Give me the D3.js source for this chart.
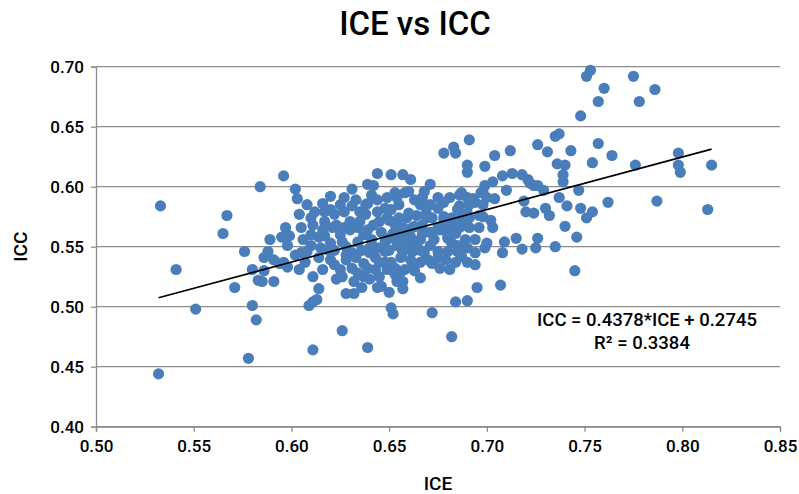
<!DOCTYPE html>
<html>
<head>
<meta charset="utf-8">
<script src="https://cdn.jsdelivr.net/npm/d3@7"></script>
<style>
  html, body { margin: 0; padding: 0; background: #fff; }
  svg { display: block; font-family: Roboto, "Noto Sans", sans-serif; }
</style>
</head>
<body>
<svg id="chart" width="799" height="494"></svg>
<script>
const titleText = "ICE vs ICC";
const xLabel = "ICE";
const yLabel = "ICC";
const xTicks = [0.50, 0.55, 0.60, 0.65, 0.70, 0.75, 0.80, 0.85];
const yTicks = [0.40, 0.45, 0.50, 0.55, 0.60, 0.65, 0.70];
const slope = 0.4378;
const intercept = 0.2745;
const rSquared = 0.3384;

const ice = [
0.533,0.541,0.551,0.532,0.567,0.565,0.571,0.576,0.578,0.580,0.582,0.584,0.580,0.586,0.583,0.585,0.591,0.586,0.588,0.591,
0.594,0.598,0.596,0.597,0.595,0.589,0.598,0.596,0.604,0.611,0.614,0.609,0.611,0.613,0.626,0.611,0.639,0.650,0.651,0.652,
0.657,0.657,0.663,0.672,0.682,0.684,0.690,0.695,0.707,0.694,0.745,
0.602,0.603,0.608,0.616,0.620,0.627,0.631,0.631,0.635,0.639,0.642,0.644,0.651,0.657,0.661,0.641,0.639,0.644,0.649,0.654,
0.660,0.668,0.667,0.671,0.675,0.678,0.686,0.690,0.694,0.685,0.675,0.669,0.678,0.610,0.617,0.630,0.649,0.659,0.664,0.605,
0.611,0.623,0.635,0.642,0.683,0.691,0.686,0.599,0.606,0.614,0.625,0.637,0.646,0.656,0.662,0.667,0.680,0.694,0.608,0.620,
0.628,0.640,0.650,0.662,0.675,0.685,
0.678,0.684,0.683,0.691,0.690,0.690,0.699,0.704,0.712,0.731,0.736,0.708,0.713,0.718,0.721,0.703,0.699,0.698,0.710,0.722,
0.724,0.726,0.729,0.653,0.658,0.687,0.693,0.697,0.700,0.704,0.720,0.724,0.730,0.732,0.737,0.650,0.655,0.660,0.669,0.686,
0.690,0.691,0.696,0.698,0.702,0.703,0.678,0.680,0.675,0.659,0.663,0.667,0.672,0.652,0.655,0.680,0.682,0.700,0.699,0.694,
0.709,0.715,0.726,0.708,0.718,0.725,0.735,0.687,0.676,0.681,0.672,0.656,0.661,0.653,0.662,0.666,0.671,0.661,
0.753,0.751,0.775,0.760,0.786,0.757,0.778,0.748,0.737,0.735,0.757,0.726,0.743,0.764,0.740,0.754,0.776,0.739,0.739,0.747,
0.719,0.762,0.787,0.741,0.748,0.754,0.751,0.740,0.746,
0.798,0.798,0.799,0.815,0.813,
0.605,0.620,0.628,0.637,0.645,0.657,0.640,0.631,0.616,0.623,0.632,0.628,0.632,0.636,0.644,0.640,0.645,0.649,0.656,0.668,
0.680,0.626,0.637,0.646,0.654,
0.604,0.612,0.620,0.627,0.622,0.638,0.644,0.651,0.645,0.653,0.616,0.630,0.619,0.626,0.634,0.641,0.648,0.654,0.614,0.622,
0.631,0.639,0.648,0.653,0.607,0.602,0.610,0.617,0.633,0.643,0.666,0.673,0.684,0.689,0.670,0.679,0.685,0.690,0.658,0.663,
0.651,0.658,0.666,0.648,
0.621,0.627,0.634,0.639,0.650,0.657,0.661,0.671,0.676,0.682,0.687,0.672,0.666,0.671,0.681,0.663,0.655,0.648,0.638,0.633,
0.625,0.617,0.610,0.622,0.628,0.636,0.644,0.656,0.666,0.675,0.684,0.690,0.689,0.696,0.698,0.691,0.625,0.634,0.643,0.615
];
const icc = [
0.584,0.531,0.498,0.444,0.576,0.561,0.516,0.546,0.457,0.501,0.489,0.600,0.531,0.530,0.522,0.521,0.521,0.541,0.546,0.539,
0.536,0.533,0.609,0.566,0.558,0.556,0.551,0.537,0.531,0.525,0.515,0.501,0.504,0.506,0.480,0.464,0.466,0.512,0.499,0.494,
0.515,0.521,0.530,0.495,0.475,0.504,0.505,0.516,0.518,0.535,0.530,
0.598,0.590,0.585,0.586,0.592,0.591,0.598,0.584,0.579,0.602,0.601,0.611,0.610,0.610,0.606,0.593,0.586,0.589,0.591,0.591,
0.596,0.596,0.591,0.602,0.591,0.587,0.593,0.591,0.587,0.581,0.582,0.574,0.575,0.574,0.571,0.571,0.574,0.574,0.576,0.566,
0.568,0.568,0.571,0.568,0.568,0.566,0.566,0.559,0.556,0.558,0.560,0.560,0.562,0.560,0.566,0.568,0.560,0.556,0.546,0.553,
0.550,0.549,0.547,0.546,0.546,0.546,
0.628,0.628,0.633,0.639,0.618,0.612,0.617,0.626,0.630,0.629,0.619,0.609,0.611,0.610,0.606,0.604,0.601,0.596,0.597,0.603,
0.601,0.601,0.597,0.595,0.595,0.595,0.590,0.595,0.591,0.590,0.579,0.578,0.582,0.576,0.591,0.572,0.574,0.578,0.578,0.584,
0.578,0.574,0.576,0.575,0.572,0.566,0.572,0.566,0.566,0.564,0.567,0.561,0.561,0.561,0.556,0.557,0.553,0.553,0.549,0.545,
0.554,0.557,0.557,0.545,0.548,0.549,0.550,0.542,0.532,0.531,0.536,0.541,0.539,0.532,0.535,0.547,0.551,0.550,
0.697,0.692,0.692,0.682,0.681,0.671,0.671,0.659,0.644,0.642,0.636,0.635,0.630,0.626,0.618,0.620,0.618,0.610,0.604,0.597,
0.588,0.587,0.588,0.584,0.582,0.579,0.574,0.567,0.558,
0.628,0.618,0.612,0.618,0.581,
0.545,0.539,0.539,0.536,0.537,0.546,0.545,0.545,0.531,0.523,0.521,0.511,0.511,0.516,0.516,0.523,0.525,0.531,0.529,0.545,
0.546,0.525,0.525,0.517,0.521,
0.577,0.579,0.581,0.579,0.577,0.577,0.579,0.581,0.571,0.568,0.564,0.564,0.547,0.554,0.554,0.556,0.554,0.551,0.541,0.535,
0.532,0.532,0.537,0.527,0.537,0.543,0.551,0.559,0.541,0.541,0.556,0.556,0.561,0.556,0.539,0.539,0.551,0.549,0.556,0.551,
0.537,0.531,0.524,0.546,
0.566,0.566,0.566,0.564,0.557,0.566,0.558,0.562,0.564,0.574,0.574,0.574,0.585,0.585,0.591,0.589,0.585,0.582,0.585,0.589,
0.585,0.579,0.560,0.547,0.543,0.547,0.549,0.549,0.537,0.541,0.537,0.537,0.568,0.566,0.585,0.585,0.531,0.528,0.531,0.549
];

const points = ice.map((v, i) => ({ x: v, y: icc[i] }));

const svg = d3.select("#chart");
const plot = { left: 96, right: 780, top: 66.7, bottom: 426.7 };

const x = d3.scaleLinear().domain([0.50, 0.85]).range([plot.left, plot.right]);
const y = d3.scaleLinear().domain([0.40, 0.70]).range([plot.bottom, plot.top]);

const gridColor = "#8c8c8c";

// horizontal gridlines
svg.append("g")
  .selectAll("line")
  .data(yTicks)
  .join("line")
  .attr("x1", plot.left)
  .attr("x2", plot.right)
  .attr("y1", d => y(d))
  .attr("y2", d => y(d))
  .attr("stroke", gridColor)
  .attr("stroke-width", 1.3);

// y axis
const yAxis = d3.axisLeft(y).tickValues(yTicks).tickFormat(d3.format(".2f")).tickSize(5).tickPadding(7);
const gy = svg.append("g").attr("transform", `translate(${plot.left},0)`).call(yAxis);
gy.select(".domain").attr("stroke", gridColor).attr("stroke-width", 1.3);
gy.selectAll(".tick line").attr("stroke", gridColor).attr("stroke-width", 1.3);
gy.selectAll(".tick text").attr("font-size", 17).attr("font-weight", 500).attr("fill", "#000").attr("font-family", "Roboto, sans-serif");

// x axis
const xAxis = d3.axisBottom(x).tickValues(xTicks).tickFormat(d3.format(".2f")).tickSize(5).tickPadding(8);
const gx = svg.append("g").attr("transform", `translate(0,${plot.bottom})`).call(xAxis);
gx.select(".domain").attr("stroke", gridColor).attr("stroke-width", 1.3);
gx.selectAll(".tick line").attr("stroke", gridColor).attr("stroke-width", 1.3);
gx.selectAll(".tick text").attr("font-size", 17).attr("font-weight", 500).attr("fill", "#000").attr("font-family", "Roboto, sans-serif");

// points
svg.append("g")
  .selectAll("circle")
  .data(points)
  .join("circle")
  .attr("cx", d => x(d.x))
  .attr("cy", d => y(d.y))
  .attr("r", 5.6)
  .attr("fill", "#4a7ebb");

// trend line
const xMin = d3.min(ice), xMax = d3.max(ice);
svg.append("line")
  .attr("x1", x(xMin))
  .attr("y1", y(slope * xMin + intercept))
  .attr("x2", x(xMax))
  .attr("y2", y(slope * xMax + intercept))
  .attr("stroke", "#000")
  .attr("stroke-width", 1.6);

// equation labels
svg.append("text")
  .attr("x", 647).attr("y", 326)
  .attr("text-anchor", "middle")
  .attr("font-size", 18.5)
  .attr("font-weight", 500)
  .text(`ICC = ${slope}*ICE + ${intercept}`);
svg.append("text")
  .attr("x", 642).attr("y", 349)
  .attr("text-anchor", "middle")
  .attr("font-size", 18.5)
  .attr("font-weight", 500)
  .text(`R² = ${rSquared}`);

// title
svg.append("text")
  .attr("x", 415).attr("y", 35)
  .attr("text-anchor", "middle")
  .attr("font-size", 33)
  .attr("font-weight", 500)
  .text(titleText);

// axis titles
svg.append("text")
  .attr("x", 438).attr("y", 490)
  .attr("text-anchor", "middle")
  .attr("font-size", 19)
  .attr("font-weight", 500)
  .text(xLabel);
svg.append("text")
  .attr("transform", `translate(27,${(plot.top + plot.bottom) / 2}) rotate(-90)`)
  .attr("text-anchor", "middle")
  .attr("font-size", 19)
  .attr("font-weight", 500)
  .text(yLabel);
</script>
</body>
</html>
